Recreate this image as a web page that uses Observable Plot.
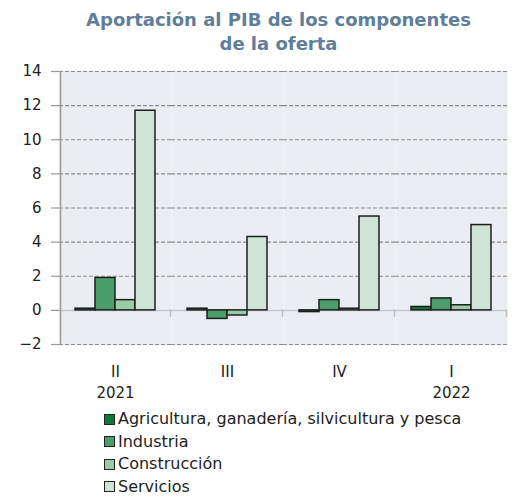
<!DOCTYPE html>
<html>
<head>
<meta charset="utf-8">
<script src="https://cdn.jsdelivr.net/npm/d3@7"></script>
<script src="https://cdn.jsdelivr.net/npm/@observablehq/plot@0.6"></script>
<style>
  html, body { margin: 0; padding: 0; background: #fff; }
  body { width: 513px; font-family: "DejaVu Sans", sans-serif; overflow: hidden; }
  #title { height: 62px; text-align: center; color: #5f7e9b; font-weight: bold; font-size: 18px; line-height: 24px; padding-top: 8px; padding-left: 44px; box-sizing: border-box; }
  #chart svg { display: block; }
  #legend { margin-left: 104px; margin-top: 1px; font-size: 16px; line-height: 18px; color: #222; }
  .row { display: flex; align-items: center; height: 22.5px; }
  .sw { width: 9px; height: 9px; border: 1.5px solid #222; margin-right: 3px; }
</style>
</head>
<body>
<div id="title">Aportación al PIB de los componentes<br>de la oferta</div>
<div id="chart"></div>
<div id="legend"></div>
<script>
const quarters = ["II", "III", "IV", "I"];
const years = ["2021", "", "", "2022"];
const series = ["Agricultura, ganadería, silvicultura y pesca", "Industria", "Construcción", "Servicios"];
const colors = ["#0b7a36", "#4a9e6a", "#9acba9", "#cfe4d6"];
const agricultura = [0.1, 0.1, -0.1, 0.2];
const industria = [1.9, -0.5, 0.6, 0.7];
const construccion = [0.6, -0.3, 0.1, 0.3];
const servicios = [11.7, 4.3, 5.5, 5.0];
const yTicks = [-2, 0, 2, 4, 6, 8, 10, 12, 14];

const seriesValues = [agricultura, industria, construccion, servicios];
const data = [];
quarters.forEach((q, qi) => series.forEach((s, si) => data.push({q, s, v: seriesValues[si][qi]})));
const labels = quarters.map((q, i) => ({q, label: years[i] ? q + "\n" + years[i] : q}));

const width = 513, ml = 58, mr = 5;
const po = 0.7; // outer padding of the series band inside each quarter
const facetW = (width - ml - mr) / quarters.length;
const step = facetW / (series.length + 2 * po);
const edge = step / 2 + po * step;

const chart = Plot.plot({
  width, height: 345,
  marginLeft: ml, marginRight: mr, marginTop: 9, marginBottom: 63,
  style: {fontFamily: "DejaVu Sans, sans-serif", fontSize: "15px", color: "#222"},
  fx: {domain: quarters, padding: 0, axis: null},
  x: {domain: series, paddingInner: 0, paddingOuter: po, axis: null},
  y: {domain: [-2, 14], axis: null},
  color: {domain: series, range: colors},
  marks: [
    Plot.frame({fill: "#eaeef2", stroke: null}),
    Plot.gridY(yTicks.filter(d => d !== 0), {stroke: "#8c8c8c", strokeOpacity: 1, strokeDasharray: "4,2", strokeWidth: 1.2}),
    Plot.ruleY([0], {stroke: "#c4c8cc", strokeWidth: 1.5}),
    Plot.ruleX(quarters, {fx: d => d, x: () => series[series.length - 1], dx: edge, y1: 0, y2: -0.4, stroke: "#bbbbbb", strokeWidth: 1.5}),
    Plot.ruleX([quarters[0]], {fx: d => d, x: () => series[0], dx: -edge, stroke: "#999", strokeWidth: 1.5}),
    Plot.axisY({ticks: yTicks, tickSize: 8, tickPadding: 10, stroke: "#999", strokeWidth: 1.2, fill: "#222", fontSize: 15, label: null}),
    Plot.barY(data, {fx: "q", x: "s", y: "v", fill: "s", stroke: "#1e1e1e", strokeWidth: 1.5}),
    Plot.text(labels, {fx: "q", text: "label", frameAnchor: "bottom", lineAnchor: "top", dy: 17, lineHeight: 1.42, fontSize: 15, fill: "#222"})
  ]
});
document.getElementById("chart").append(chart);

const legend = document.getElementById("legend");
series.forEach((s, i) => {
  const row = document.createElement("div");
  row.className = "row";
  const sw = document.createElement("span");
  sw.className = "sw";
  sw.style.background = colors[i];
  const t = document.createElement("span");
  t.textContent = s;
  row.append(sw, t);
  legend.append(row);
});
</script>
</body>
</html>
